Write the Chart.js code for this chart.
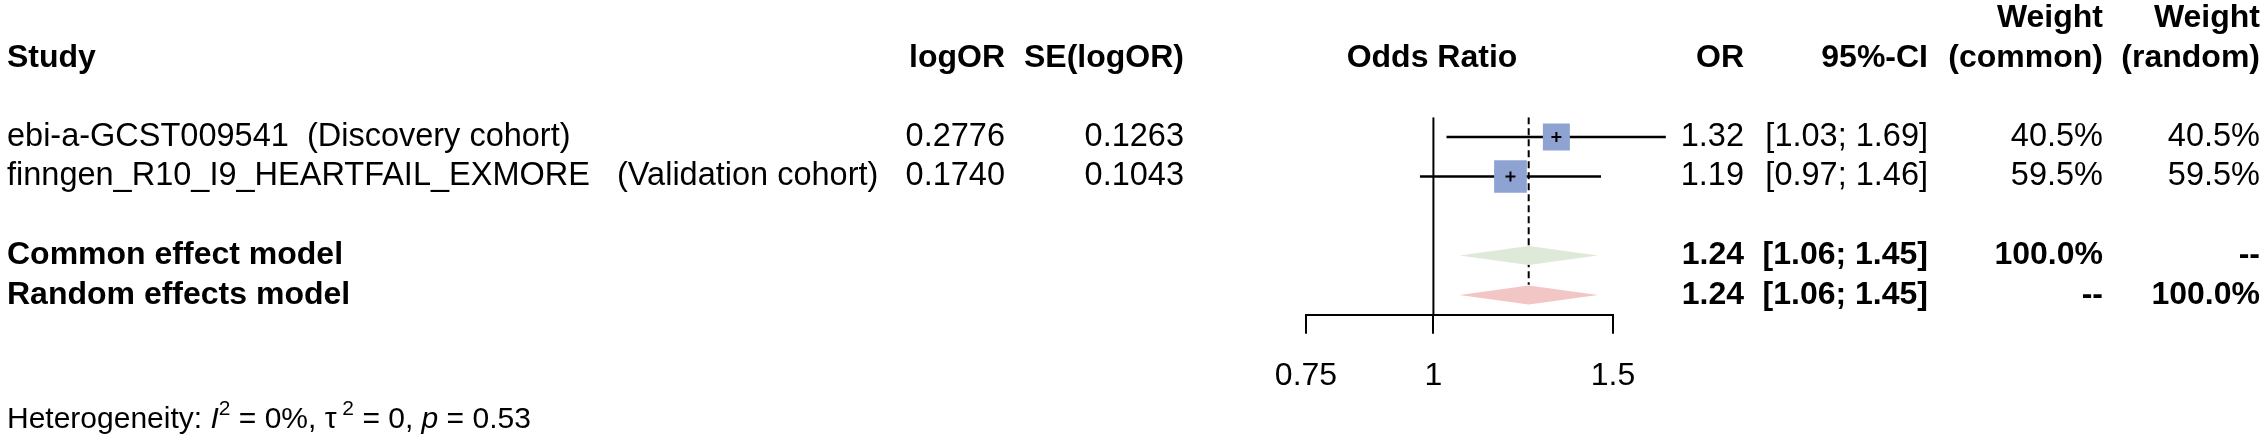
<!DOCTYPE html>
<html>
<head>
<meta charset="utf-8">
<script src="https://cdn.jsdelivr.net/npm/chart.js@4.4.1/dist/chart.umd.min.js"></script>
<style>
  html, body { margin: 0; padding: 0; background: #fff; }
  #wrap { width: 2268px; height: 438px; }
</style>
</head>
<body>
<div id="wrap"><canvas id="forest" width="2268" height="438"></canvas></div>
<script>
// study rows
const studies = ["ebi-a-GCST009541  (Discovery cohort)", "finngen_R10_I9_HEARTFAIL_EXMORE   (Validation cohort)"];
const logOR = ["0.2776", "0.1740"];
const seLogOR = ["0.1263", "0.1043"];
const oddsRatio = [1.32, 1.19];
const ciLow = [1.03, 0.97];
const ciHigh = [1.69, 1.46];
const weightCommon = [40.5, 59.5];
const weightRandom = [40.5, 59.5];

// pooled rows
const models = ["Common effect model", "Random effects model"];
const modelOR = [1.24, 1.24];
const modelLow = [1.06, 1.06];
const modelHigh = [1.45, 1.45];
const modelWeightCommon = ["100.0%", "--"];
const modelWeightRandom = ["--", "100.0%"];

const xTicks = [0.75, 1, 1.5];
const nullValue = 1;

const FONT = '"Liberation Sans", Arial, sans-serif';
Chart.defaults.font.family = FONT;
Chart.defaults.color = "#000";

const modelRows = [3, 4];
const diamondColors = ["#dfe9d8", "#f3c6c6"];
const DH = 0.24; // half height of the diamonds, in rows

const fmt = (v) => v.toFixed(2);
const pct = (v) => v.toFixed(1) + "%";

const datasets = [];

// small cross on each point estimate
datasets.push({
  data: oddsRatio.map((v, i) => ({ x: v, y: i })),
  pointStyle: "cross", pointRadius: 5, borderColor: "#000", borderWidth: 2,
  order: 0
});
// weighted squares
datasets.push({
  data: oddsRatio.map((v, i) => ({ x: v, y: i })),
  pointStyle: "rect",
  pointRadius: weightCommon.map(w => 3.0 * Math.sqrt(w)),
  backgroundColor: "#8fa3d3", borderWidth: 0,
  order: 1
});
// confidence intervals
studies.forEach((s, i) => {
  datasets.push({
    data: [{ x: ciLow[i], y: i }, { x: ciHigh[i], y: i }],
    showLine: true, pointRadius: 0, borderColor: "#000", borderWidth: 2.5,
    clip: false, order: 2
  });
});
// diamonds: upper edge filled down to lower edge
models.forEach((m, k) => {
  const r = modelRows[k];
  datasets.push({
    data: [{ x: modelLow[k], y: r }, { x: modelOR[k], y: r - DH }, { x: modelHigh[k], y: r }],
    showLine: true, pointRadius: 0, borderWidth: 0, borderColor: diamondColors[k],
    backgroundColor: diamondColors[k], fill: "+1", order: 1
  });
  datasets.push({
    data: [{ x: modelLow[k], y: r }, { x: modelOR[k], y: r + DH }, { x: modelHigh[k], y: r }],
    showLine: true, pointRadius: 0, borderWidth: 0, borderColor: diamondColors[k],
    fill: false, order: 1
  });
});
// pooled estimate line
datasets.push({
  data: [{ x: modelOR[0], y: -0.5 }, { x: modelOR[0], y: modelRows[1] - DH - 0.02 }],
  showLine: true, pointRadius: 0, borderColor: "#000", borderWidth: 2, borderDash: [7, 4],
  order: 3
});
// line of no effect
datasets.push({
  data: [{ x: nullValue, y: -0.5 }, { x: nullValue, y: 4.5 }],
  showLine: true, pointRadius: 0, borderColor: "#000", borderWidth: 2,
  order: 4
});

const tablePlugin = {
  id: "table",
  afterDraw(chart) {
    const ctx = chart.ctx;
    const y = chart.scales.y;
    const txt = (s, x, row, align, bold) => {
      ctx.font = (bold ? "bold 32px " : "32.5px ") + FONT;
      ctx.textAlign = align;
      ctx.textBaseline = "middle";
      ctx.fillStyle = "#000";
      ctx.fillText(s, x, y.getPixelForValue(row));
    };
    ctx.save();
    // headers
    txt("Study", 7, -2, "left", true);
    txt("logOR", 1005, -2, "right", true);
    txt("SE(logOR)", 1184, -2, "right", true);
    txt("Odds Ratio", 1432, -2, "center", true);
    txt("OR", 1744, -2, "right", true);
    txt("95%-CI", 1928, -2, "right", true);
    txt("Weight", 2103, -3, "right", true);
    txt("(common)", 2103, -2, "right", true);
    txt("Weight", 2260, -3, "right", true);
    txt("(random)", 2260, -2, "right", true);
    // studies
    studies.forEach((s, i) => {
      txt(s, 7, i, "left", false);
      txt(logOR[i], 1005, i, "right", false);
      txt(seLogOR[i], 1184, i, "right", false);
      txt(fmt(oddsRatio[i]), 1744, i, "right", false);
      txt("[" + fmt(ciLow[i]) + "; " + fmt(ciHigh[i]) + "]", 1928, i, "right", false);
      txt(pct(weightCommon[i]), 2103, i, "right", false);
      txt(pct(weightRandom[i]), 2260, i, "right", false);
    });
    // pooled
    models.forEach((m, k) => {
      const r = modelRows[k];
      txt(m, 7, r, "left", true);
      txt(fmt(modelOR[k]), 1744, r, "right", true);
      txt("[" + fmt(modelLow[k]) + "; " + fmt(modelHigh[k]) + "]", 1928, r, "right", true);
      txt(modelWeightCommon[k], 2103, r, "right", true);
      txt(modelWeightRandom[k], 2260, r, "right", true);
    });
    // heterogeneity line
    const hy = 417;
    let hx = 7;
    const parts = [
      ["Heterogeneity: ", "", 30, 0],
      ["I", "italic ", 30, 0],
      ["2", "", 21, -13],
      [" = 0%, \u03c4", "", 30, 0],
      [" 2", "", 21, -13],
      [" = 0, ", "", 30, 0],
      ["p", "italic ", 30, 0],
      [" = 0.53", "", 30, 0]
    ];
    ctx.textAlign = "left";
    ctx.textBaseline = "alphabetic";
    parts.forEach(([s, style, size, dy]) => {
      ctx.font = style + size + "px " + FONT;
      ctx.fillText(s, hx, hy + 11 + dy);
      hx += ctx.measureText(s).width;
    });
    ctx.restore();
  }
};

new Chart("forest", {
  type: "scatter",
  data: { datasets },
  options: {
    responsive: false,
    animation: false,
    devicePixelRatio: 1,
    layout: { padding: { left: 1306, right: 655, top: 117.25, bottom: 0 } },
    plugins: { legend: { display: false }, tooltip: { enabled: false } },
    scales: {
      x: {
        type: "logarithmic",
        min: 0.75,
        max: 1.5,
        position: "bottom",
        afterBuildTicks: (s) => { s.ticks = xTicks.map(v => ({ value: v })); },
        afterFit: (s) => { s.height = 438 - 314.75; },
        border: { display: true, color: "#000", width: 2 },
        grid: { drawOnChartArea: false, drawTicks: true, tickLength: 19, color: "#000", lineWidth: 2 },
        ticks: { autoSkip: false, maxRotation: 0, padding: 23, color: "#000", font: { size: 32 }, callback: (v) => String(v) }
      },
      y: { type: "linear", min: -0.5, max: 4.5, reverse: true, display: false }
    }
  },
  plugins: [tablePlugin]
});
</script>
</body>
</html>
